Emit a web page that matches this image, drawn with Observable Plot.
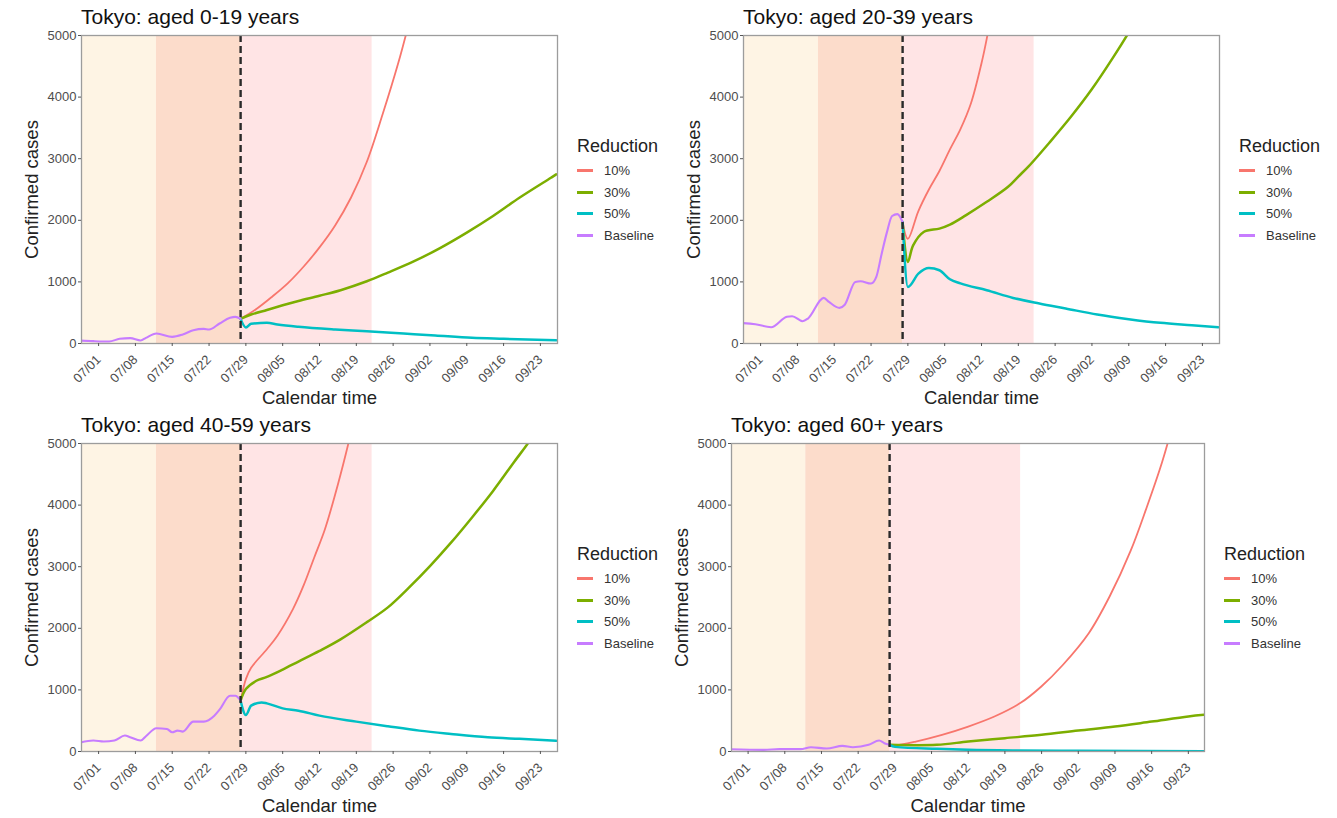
<!DOCTYPE html>
<html><head><meta charset="utf-8">
<script src="https://cdn.jsdelivr.net/npm/d3@7"></script>
<script src="https://cdn.jsdelivr.net/npm/@observablehq/plot@0.6"></script>
<style>
body{margin:0;background:#fff;font-family:"Liberation Sans",Arial,sans-serif;}
#root{position:relative;width:1337px;height:818px;overflow:hidden;background:#fff;}
.panel{position:absolute;}
.title{position:absolute;font-size:21px;color:#111;white-space:nowrap;line-height:22px;}
.legend{position:absolute;}
.legend .lt{font-size:18px;color:#222;line-height:22px;height:25px;}
.legend .row{display:flex;align-items:center;height:21.5px;font-size:13px;color:#333;}
.legend .sw{width:16px;height:3px;margin-right:11px;}
</style></head><body><div id="root"></div>
<script>
// ---------- data ----------
const seriesNames = ["10%", "30%", "50%", "Baseline"];
const seriesColors = ["#F8766D", "#7CAE00", "#00BFC4", "#C77CFF"];
const xTickDates = ["07-01","07-08","07-15","07-22","07-29","08-05","08-12","08-19","08-26","09-02","09-09","09-16","09-23"];
const yTickValues = [0, 1000, 2000, 3000, 4000, 5000];
const phaseStarts = ["06-20", "07-12", "07-28"];
const phaseEnds = ["07-12", "07-28", "08-22"];
const phaseFills = ["#FEF4E4", "#FCDCCB", "#FFE4E5"];
const interventionDate = "07-28";

// Tokyo: aged 0-19 years
const age0_19_baseline = [["06-27",49],["06-30",38],["07-03",32],["07-05",76],["07-07",87],["07-09",49],["07-10",92],["07-12",162],["07-15",108],["07-17",146],["07-19",216],["07-21",238],["07-22",227],["07-24",325],["07-26",417],["07-27",433],["07-28",400]];
const age0_19_r10 = [["07-28",400],["07-31",560],["08-03",760],["08-06",980],["08-09",1250],["08-12",1560],["08-15",1920],["08-18",2370],["08-21",2950],["08-24",3720],["08-27",4560],["08-29",5200],["08-31",5900]];
const age0_19_r30 = [["07-28",400],["07-30",470],["08-02",545],["08-05",620],["08-08",690],["08-12",775],["08-16",865],["08-21",1010],["08-25",1150],["08-30",1336],["09-04",1553],["09-09",1800],["09-14",2070],["09-19",2365],["09-25",2690],["09-26",2745]];
const age0_19_r50 = [["07-28",400],["07-29",260],["07-30",319],["08-02",335],["08-04",308],["08-08",270],["08-15",227],["08-21",200],["08-28",162],["09-03",130],["09-10",92],["09-16",76],["09-26",52]];

// Tokyo: aged 20-39 years
const age20_39_baseline = [["06-27",335],["06-30",313],["07-03",265],["07-06",435],["07-07",443],["07-09",362],["07-10",405],["07-13",740],["07-14",675],["07-16",578],["07-17",630],["07-19",1000],["07-20",1010],["07-22",973],["07-23",1081],["07-24",1450],["07-25",1800],["07-26",2070],["07-27",2100],["07-28",1973]];
const age20_39_r10 = [["07-28",1973],["07-29",1700],["07-31",2150],["08-02",2500],["08-04",2800],["08-06",3150],["08-08",3480],["08-10",3900],["08-12",4550],["08-13",4950],["08-15",5900]];
const age20_39_r30 = [["07-28",1973],["07-29",1324],["07-30",1594],["08-01",1811],["08-04",1865],["08-06",1930],["08-09",2080],["08-13",2300],["08-17",2540],["08-19",2710],["08-21",2880],["08-25",3270],["08-29",3680],["09-02",4130],["09-06",4640],["09-09",5050],["09-11",5350]];
const age20_39_r50 = [["07-28",1973],["07-29",919],["07-31",1135],["08-02",1227],["08-04",1189],["08-06",1043],["08-08",975],["08-13",865],["08-18",740],["08-23",649],["08-28",568],["09-03",470],["09-09",395],["09-15",335],["09-21",297],["09-26",265]];

// Tokyo: aged 40-59 years
const age40_59_baseline = [["06-27",135],["06-30",178],["07-02",162],["07-04",178],["07-06",259],["07-07",232],["07-09",178],["07-10",248],["07-12",377],["07-14",366],["07-15",312],["07-16",339],["07-17",323],["07-19",485],["07-21",485],["07-23",582],["07-24",680],["07-26",905],["07-27",905],["07-28",824]];
const age40_59_r10 = [["07-28",824],["07-29",1175],["07-30",1360],["08-02",1660],["08-04",1880],["08-07",2320],["08-09",2700],["08-11",3150],["08-13",3600],["08-15",4180],["08-17",4830],["08-19",5550]];
const age40_59_r30 = [["07-28",824],["07-29",1013],["07-31",1148],["08-02",1210],["08-05",1330],["08-08",1460],["08-12",1633],["08-16",1821],["08-21",2100],["08-25",2340],["08-29",2660],["09-02",3010],["09-06",3390],["09-10",3800],["09-14",4230],["09-18",4700],["09-21",5050],["09-23",5350]];
const age40_59_r50 = [["07-28",824],["07-29",593],["07-30",744],["08-01",797],["08-02",781],["08-05",700],["08-08",663],["08-12",582],["08-19",485],["08-25",410],["08-31",339],["09-06",286],["09-13",232],["09-19",205],["09-26",175]];

// Tokyo: aged 60+ years
const age60_baseline = [["06-27",38],["07-04",27],["07-07",38],["07-11",38],["07-13",70],["07-16",49],["07-19",92],["07-21",70],["07-24",108],["07-26",178],["07-27",135],["07-28",108]];
const age60_r10 = [["07-28",108],["07-29",100],["08-02",162],["08-07",270],["08-12",405],["08-17",568],["08-22",790],["08-26",1060],["08-30",1400],["09-04",1920],["09-08",2520],["09-12",3260],["09-15",3950],["09-18",4700],["09-20",5300],["09-22",6000]];
const age60_r30 = [["07-28",108],["08-06",108],["08-12",162],["08-19",216],["08-26",270],["09-02",340],["09-09",405],["09-16",486],["09-23",568],["09-26",595]];
const age60_r50 = [["07-28",108],["07-29",75],["08-06",43],["08-12",27],["08-21",16],["09-02",11],["09-26",5]];

// ---------- layout ----------
const parseDay = s => new Date(`2020-${s}T00:00:00Z`);
const parseTime = s => new Date(`2020-${s}Z`);
const panels = [
  {title: "Tokyo: aged 0-19 years", left: 81, top: 35, fw: 476, x0: "06-27T18:00", x1: "09-26T06:00",
   series: [age0_19_r10, age0_19_r30, age0_19_r50, age0_19_baseline]},
  {title: "Tokyo: aged 20-39 years", left: 743, top: 35, fw: 476, x0: "06-27T18:00", x1: "09-26T06:00",
   series: [age20_39_r10, age20_39_r30, age20_39_r50, age20_39_baseline]},
  {title: "Tokyo: aged 40-59 years", left: 81, top: 443, fw: 476, x0: "06-27T18:00", x1: "09-26T06:00",
   series: [age40_59_r10, age40_59_r30, age40_59_r50, age40_59_baseline]},
  {title: "Tokyo: aged 60+ years", left: 731, top: 443, fw: 473, x0: "06-27T20:00", x1: "09-26T02:00",
   series: [age60_r10, age60_r30, age60_r50, age60_baseline]}
];
const strokeWidths = [1.8, 2.5, 2.5, 2.1];
const curves = ["catmull-rom", "catmull-rom", "monotone-x", "monotone-x"];
const ML = 81, MT = 35, MB = 67, MR = 113;
const root = document.getElementById("root");

for (const p of panels) {
  const W = ML + p.fw + MR;
  const marks = [];
  phaseStarts.forEach((s, i) => {
    marks.push(Plot.rect([{start: i === 0 ? parseTime(p.x0) : parseDay(s), end: parseDay(phaseEnds[i])}],
      {x1: "start", x2: "end", fill: phaseFills[i], clip: true}));
  });
  p.series.forEach((arr, i) => {
    const rows = arr.map(([d, v]) => ({date: parseDay(d), value: v}));
    marks.push(Plot.line(rows, {x: "date", y: "value", stroke: seriesColors[i], strokeWidth: strokeWidths[i],
      curve: curves[i], clip: true, strokeLinejoin: "round"}));
  });
  marks.push(Plot.ruleX([parseDay(interventionDate)], {stroke: "#2a2a2a", strokeWidth: 2.4, strokeDasharray: "7,4"}));
  marks.push(Plot.frame({stroke: "#9c9c9c", strokeWidth: 1.3}));
  marks.push(Plot.axisY({ticks: yTickValues, tickFormat: d3.format("d"), tickSize: 3, tickPadding: 2,
    label: null, fill: "#4d4d4d", stroke: "#555", fontSize: 13}));
  marks.push(Plot.axisX({ticks: xTickDates.map(parseDay), tickFormat: d3.utcFormat("%m/%d"), tickRotate: -45,
    tickSize: 3, tickPadding: 11, label: null, fill: "#4d4d4d", stroke: "#555", fontSize: 13}));
  marks.push(Plot.text(["Calendar time"], {text: d => d, frameAnchor: "bottom", dy: 55, fontSize: 18.5,
    fill: "#222", textAnchor: "middle", lineAnchor: "middle"}));
  marks.push(Plot.text(["Confirmed cases"], {text: d => d, frameAnchor: "left", dx: -49, rotate: -90, fontSize: 18.5,
    fill: "#222", textAnchor: "middle", lineAnchor: "middle"}));

  const svg = Plot.plot({
    width: W, height: MT + 308 + MB,
    marginLeft: ML, marginRight: MR, marginTop: MT, marginBottom: MB,
    style: {fontFamily: "'Liberation Sans', Arial, sans-serif", fontSize: "12px", background: "transparent", overflow: "visible"},
    x: {type: "utc", domain: [parseTime(p.x0), parseTime(p.x1)]},
    y: {domain: [0, 5000]},
    marks
  });
  const holder = document.createElement("div");
  holder.className = "panel";
  holder.style.left = (p.left - ML) + "px";
  holder.style.top = (p.top - MT) + "px";
  holder.appendChild(svg);
  root.appendChild(holder);

  const t = document.createElement("div");
  t.className = "title";
  t.style.left = p.left + "px";
  t.style.top = (p.top - 29) + "px";
  t.textContent = p.title;
  root.appendChild(t);

  const lg = document.createElement("div");
  lg.className = "legend";
  lg.style.left = (p.left + p.fw + 20) + "px";
  lg.style.top = (p.top + 100) + "px";
  const lt = document.createElement("div");
  lt.className = "lt";
  lt.textContent = "Reduction";
  lg.appendChild(lt);
  seriesNames.forEach((name, i) => {
    const row = document.createElement("div");
    row.className = "row";
    const sw = document.createElement("span");
    sw.className = "sw";
    sw.style.background = seriesColors[i];
    const lab = document.createElement("span");
    lab.textContent = name;
    row.appendChild(sw); row.appendChild(lab);
    lg.appendChild(row);
  });
  root.appendChild(lg);
}
</script></body></html>
